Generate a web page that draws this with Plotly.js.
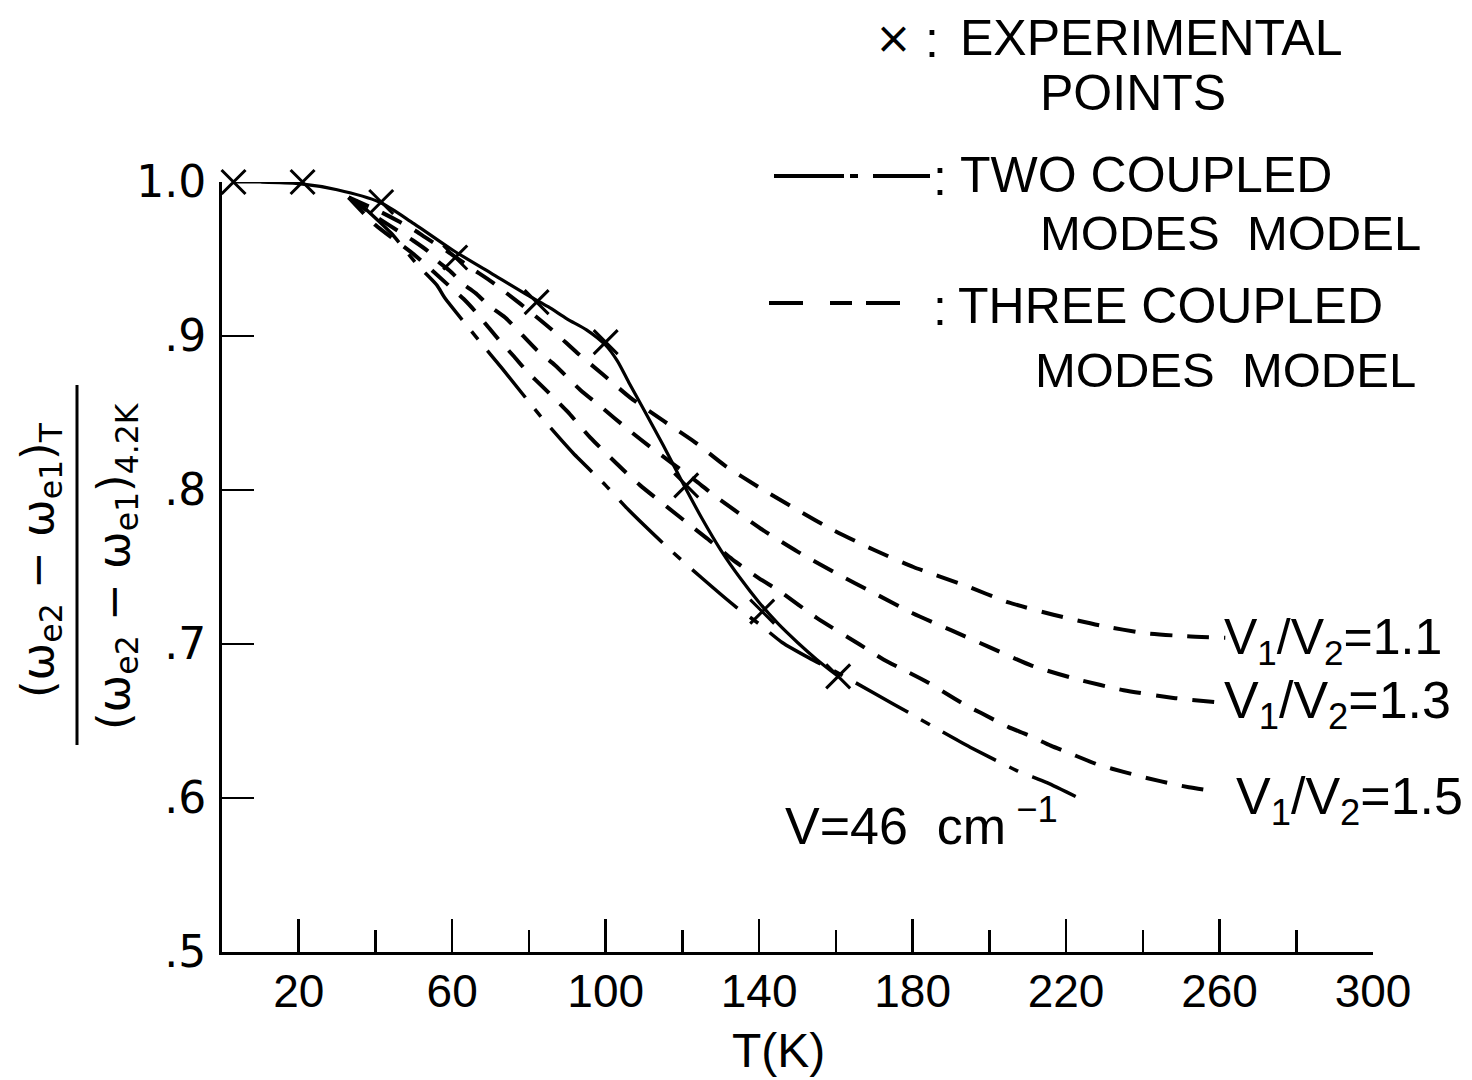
<!DOCTYPE html>
<html>
<head>
<meta charset="utf-8">
<script src="https://cdn.plot.ly/plotly-3.0.1.min.js"></script>
<style>html,body{margin:0;padding:0;background:#fff;}#chart{width:1472px;height:1080px;}</style>
</head>
<body>
<div id="chart"></div>
<script>
// ---- data ----
const expT = [3, 21, 41.5, 60.8, 82, 100, 121, 140.8, 160.6];
const expRatio = [1.0, 1.0, 0.987, 0.951, 0.922, 0.896, 0.803, 0.721, 0.679];

const guideT = [3, 10, 20, 30, 41, 50, 60, 70, 80, 85, 90, 95, 100, 103, 106, 110, 115, 120, 125, 130, 135, 140, 145, 150, 155, 160.6];
const guideRatio = [1.0, 1.0, 0.999, 0.995, 0.987, 0.973, 0.956, 0.941, 0.926, 0.919, 0.911, 0.904, 0.894, 0.884, 0.870, 0.852, 0.829, 0.805, 0.782, 0.761, 0.743, 0.727, 0.713, 0.701, 0.690, 0.679];

const twoT = [35, 44, 51, 56, 58, 67, 73, 83, 91.5, 100, 106, 116, 125, 134, 140, 146, 153, 160, 170, 180, 187, 195, 207, 215, 222.5];
const twoRatio = [0.988, 0.967, 0.946, 0.933, 0.925, 0.897, 0.879, 0.848, 0.824, 0.803, 0.787, 0.763, 0.743, 0.724, 0.713, 0.701, 0.691, 0.682, 0.668, 0.654, 0.644, 0.633, 0.618, 0.610, 0.601];

const t11 = [33, 41, 46.4, 50, 53, 58.7, 65, 70.4, 77.7, 86, 92.6, 99.3, 106.4, 115, 123.3, 131, 139.8, 150, 159.3, 170, 180.2, 193.7, 205, 216.7, 229, 240.7, 251.6, 261.5];
const r11 = [0.99, 0.981, 0.974, 0.969, 0.964, 0.955, 0.944, 0.935, 0.921, 0.904, 0.889, 0.875, 0.860, 0.845, 0.831, 0.816, 0.802, 0.787, 0.774, 0.761, 0.750, 0.738, 0.727, 0.719, 0.712, 0.707, 0.705, 0.704];

const t13 = [33, 41, 49.8, 53.7, 56, 59.5, 62.8, 66.5, 69.4, 73.8, 82, 86.8, 93.4, 97.8, 107, 111.6, 124, 128, 141, 150, 160, 170, 180, 190, 200, 211, 223, 235, 248, 260];
const r13 = [0.99, 0.976, 0.962, 0.955, 0.949, 0.942, 0.934, 0.927, 0.920, 0.912, 0.891, 0.881, 0.865, 0.856, 0.837, 0.828, 0.805, 0.797, 0.774, 0.760, 0.746, 0.733, 0.720, 0.709, 0.698, 0.686, 0.677, 0.670, 0.665, 0.662];

const t15 = [33, 40, 50, 59, 63, 66, 69, 72, 76, 79.5, 84, 90, 96, 104.6, 109, 116, 122.6, 126.7, 133, 139.8, 145.5, 155, 166, 172.4, 177, 184, 188, 194, 198, 205, 210, 216, 221, 228, 232, 238, 241, 248, 252, 257];
const r15 = [0.99, 0.972, 0.953, 0.933, 0.924, 0.916, 0.907, 0.898, 0.887, 0.877, 0.866, 0.851, 0.834, 0.813, 0.803, 0.789, 0.776, 0.768, 0.755, 0.743, 0.734, 0.717, 0.700, 0.690, 0.684, 0.675, 0.669, 0.660, 0.655, 0.646, 0.641, 0.634, 0.629, 0.622, 0.619, 0.615, 0.613, 0.609, 0.607, 0.605];

const xMajorTicks = [20, 60, 100, 140, 180, 220, 260, 300];
const xMajorLabels = ['20', '60', '100', '140', '180', '220', '260', '300'];
const xMinorTicks = [40, 80, 120, 160, 200, 240, 280];
const yTicks = [0.5, 0.6, 0.7, 0.8, 0.9, 1.0];
const yLabels = ['.5', '.6', '.7', '.8', '.9', '1.0'];

const curveLabels = ['V<sub>1</sub>/V<sub>2</sub>=1.1', 'V<sub>1</sub>/V<sub>2</sub>=1.3', 'V<sub>1</sub>/V<sub>2</sub>=1.5'];

// ---- layout helpers (pixel -> paper) ----
const L = 222, R = 1373, T = 182, B = 952;
const px = x => (x - L) / (R - L);
const py = y => (B - y) / (B - T);

const SANS = 'Liberation Sans, Arial, sans-serif';
const WIDE = 'DejaVu Sans, Arial, sans-serif';
const DASHED = '22px,15px';
const DASHDOT = '60px,15px,10px,15px';

const traces = [
  {x: guideT, y: guideRatio, mode: 'lines', line: {color: '#000', width: 3.2, shape: 'spline', smoothing: 0.8}, cliponaxis: false, hoverinfo: 'skip'},
  {x: twoT, y: twoRatio, mode: 'lines', line: {color: '#000', width: 3.5, dash: DASHDOT, shape: 'spline', smoothing: 0.6}, cliponaxis: false},
  {x: t11, y: r11, mode: 'lines', line: {color: '#000', width: 4, dash: DASHED, shape: 'spline', smoothing: 0.6}, cliponaxis: false},
  {x: t13, y: r13, mode: 'lines', line: {color: '#000', width: 4, dash: DASHED, shape: 'spline', smoothing: 0.6}, cliponaxis: false},
  {x: t15, y: r15, mode: 'lines', line: {color: '#000', width: 4, dash: DASHED, shape: 'spline', smoothing: 0.6}, cliponaxis: false},
  {x: expT, y: expRatio, mode: 'markers', marker: {symbol: 'x-thin', size: 24, color: '#000', line: {color: '#000', width: 3}}, cliponaxis: false}
];

function ann(text, x, y, size, font, xanchor, extra) {
  return Object.assign({text: text, x: px(x), y: py(y), xref: 'paper', yref: 'paper', showarrow: false,
    xanchor: xanchor || 'left', yanchor: 'middle', font: {family: font || SANS, size: size || 50, color: '#000'}}, extra || {});
}

const annotations = [
  ann('×', 893, 38, 44, WIDE, 'center'),
  ann(':', 932, 40, 50, SANS, 'center'),
  ann('EXPERIMENTAL', 958, 38),
  ann('POINTS', 1038, 93),
  ann(':', 940, 178, 50, SANS, 'center'),
  ann('TWO COUPLED', 958, 175),
  ann('MODES  MODEL', 1038, 233, 49),
  ann(':', 940, 308, 50, SANS, 'center'),
  ann('THREE COUPLED', 956, 306),
  ann('MODES  MODEL', 1033, 370, 49),
  // curve labels
  ann(curveLabels[0], 1222, 640, 50),
  ann(curveLabels[1], 1222, 704, 52),
  ann(curveLabels[2], 1234, 800, 52),
  ann('V=46  cm<sup> −1</sup>', 783, 822, 52),
  // axis titles
  ann('T(K)', 778, 1050, 48, SANS, 'center'),
  ann('(ω<sub>e2</sub> − ω<sub>e1</sub>)<sub>T</sub>', 40, 560, 45, WIDE, 'center', {textangle: -90}),
  ann('(ω<sub>e2</sub> − ω<sub>e1</sub>)<sub>4.2K</sub>', 116, 566, 45, WIDE, 'center', {textangle: -90})
];

const shapes = [
  // fraction bar of the y title
  {type: 'line', xref: 'paper', yref: 'paper', x0: px(77), x1: px(77), y0: py(385), y1: py(745), line: {color: '#000', width: 3}},
  // legend samples
  {type: 'line', xref: 'paper', yref: 'paper', x0: px(774), x1: px(844), y0: py(176), y1: py(176), line: {color: '#000', width: 4}},
  {type: 'line', xref: 'paper', yref: 'paper', x0: px(850), x1: px(858), y0: py(176), y1: py(176), line: {color: '#000', width: 4}},
  {type: 'line', xref: 'paper', yref: 'paper', x0: px(873), x1: px(930), y0: py(176), y1: py(176), line: {color: '#000', width: 4}},
  {type: 'line', xref: 'paper', yref: 'paper', x0: px(769), x1: px(803), y0: py(303), y1: py(303), line: {color: '#000', width: 4}},
  {type: 'line', xref: 'paper', yref: 'paper', x0: px(830), x1: px(852), y0: py(303), y1: py(303), line: {color: '#000', width: 4}},
  {type: 'line', xref: 'paper', yref: 'paper', x0: px(866), x1: px(900), y0: py(303), y1: py(303), line: {color: '#000', width: 4}}
];

const layout = {
  width: 1472, height: 1080,
  margin: {l: L, r: 1472 - R, t: T, b: 1080 - B},
  paper_bgcolor: '#fff', plot_bgcolor: '#fff',
  showlegend: false,
  xaxis: {
    range: [0, 300], showgrid: false, zeroline: false,
    showline: true, linecolor: '#000', linewidth: 3,
    tickmode: 'array', tickvals: xMajorTicks, ticktext: xMajorLabels,
    ticks: 'inside', ticklen: 33, tickwidth: 2.5, tickcolor: '#000',
    ticklabelstandoff: -3,
    tickfont: {family: SANS, size: 46, color: '#000'},
    minor: {tickmode: 'array', tickvals: xMinorTicks, ticks: 'inside', ticklen: 22, tickwidth: 2.5, tickcolor: '#000', showgrid: false}
  },
  yaxis: {
    range: [0.5, 1.0], showgrid: false, zeroline: false,
    showline: true, linecolor: '#000', linewidth: 3,
    tickmode: 'array', tickvals: yTicks, ticktext: yLabels,
    ticks: 'inside', ticklen: 32, tickwidth: 2.5, tickcolor: '#000',
    ticklabelstandoff: 4,
    tickfont: {family: WIDE, size: 44, color: '#000'}
  },
  annotations: annotations,
  shapes: shapes
};

Plotly.newPlot('chart', traces, layout, {staticPlot: true, displayModeBar: false});
</script>
</body>
</html>
